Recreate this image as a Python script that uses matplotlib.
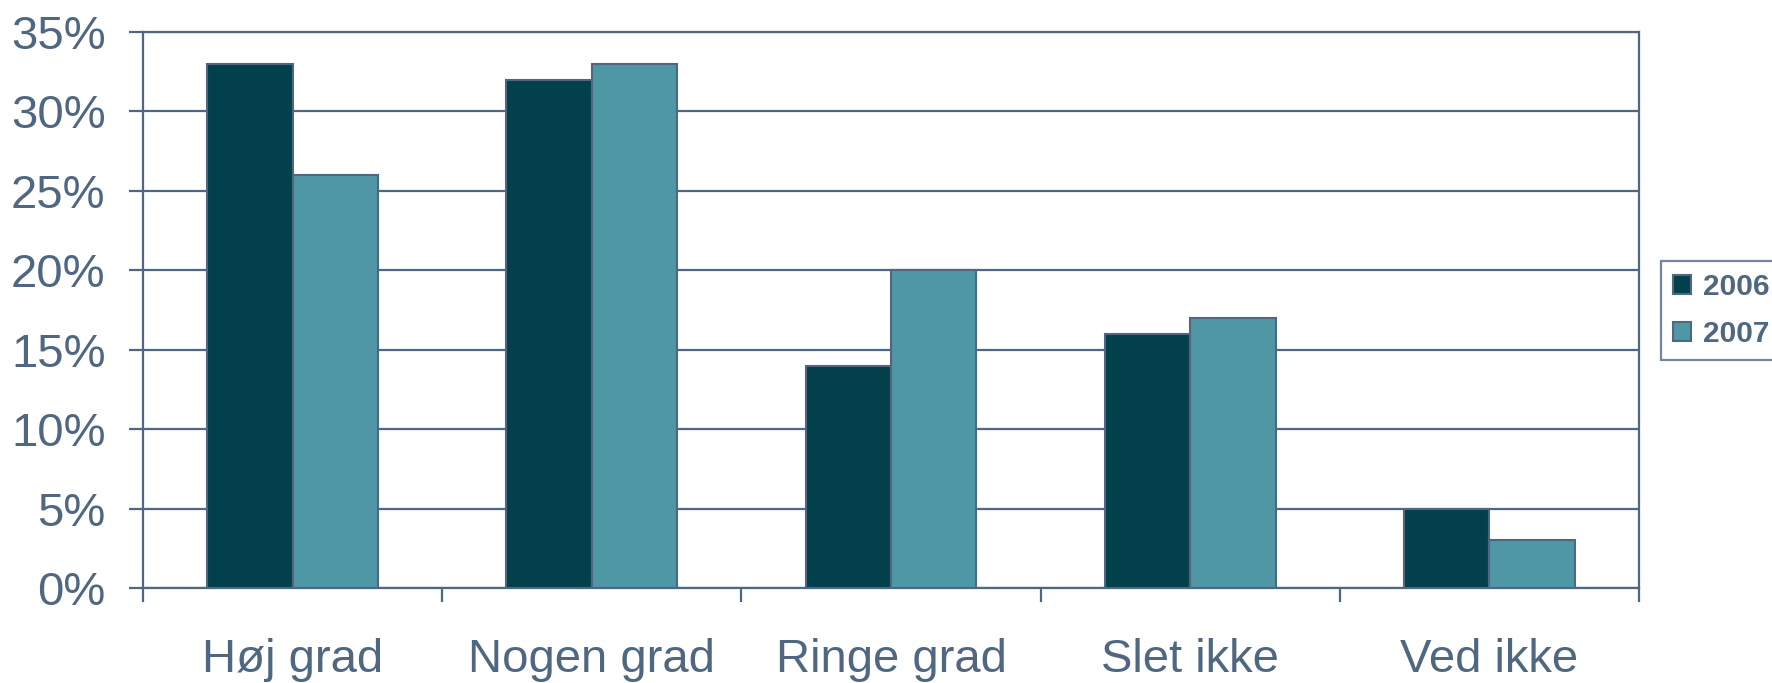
import matplotlib
matplotlib.use("Agg")
import matplotlib.pyplot as plt
import numpy as np
from matplotlib.ticker import FuncFormatter, MultipleLocator

categories = ["Høj grad", "Nogen grad", "Ringe grad", "Slet ikke", "Ved ikke"]
series_names = ["2006", "2007"]
values_2006 = [33, 32, 14, 16, 5]
values_2007 = [26, 33, 20, 17, 3]

colors = ["#02414b", "#5097a6"]
line_col = "#4f6780"
text_col = "#4f6780"

plt.rcParams["font.family"] = ["Liberation Sans", "DejaVu Sans"]

fig = plt.figure(figsize=(17.72, 6.83), dpi=100)
ax = fig.add_axes([143 / 1772, 1 - 588 / 683, (1639 - 143) / 1772, (588 - 32) / 683])

x = np.arange(len(categories))
w = 1 / 3.5
for i, (vals, name) in enumerate(zip([values_2006, values_2007], series_names)):
    ax.bar(x + (i - 0.5) * w, vals, width=w, color=colors[i], edgecolor=line_col,
           linewidth=1.5, label=name, zorder=3)

ax.set_xlim(-0.5, len(categories) - 0.5)
ax.set_ylim(0, 35)
ax.yaxis.set_major_locator(MultipleLocator(5))
ax.yaxis.set_major_formatter(FuncFormatter(lambda v, p: f"{int(round(v))}%"))
ax.grid(axis="y", color=line_col, linewidth=1.6, zorder=0)
ax.set_axisbelow(True)

for s in ax.spines.values():
    s.set_color(line_col)
    s.set_linewidth(1.6)

# category labels centred under groups, tick marks at group boundaries
ax.set_xticks(np.arange(len(categories) + 1) - 0.5)
ax.set_xticklabels([])
ax.set_xticks(x, minor=True)
ax.set_xticklabels(categories, minor=True)
ax.tick_params(axis="x", which="major", length=10, width=1.6, color=line_col, direction="out")
ax.tick_params(axis="x", which="minor", length=0, pad=36, labelsize=34, labelcolor=text_col)
ax.tick_params(axis="y", length=10, width=1.6, color=line_col, direction="out",
               pad=17, labelsize=34, labelcolor=text_col)

leg = fig.legend(loc="upper left", bbox_to_anchor=(1661 / 1772, 1 - 261 / 683),
                 frameon=True, fancybox=False, handlelength=0.62,
                 handleheight=0.62, handletextpad=0.4, borderpad=0.4, labelspacing=0.64,
                 borderaxespad=0, prop={"weight": "bold", "size": 21.5})
leg.get_frame().set_edgecolor(line_col)
leg.get_frame().set_linewidth(1.6)
for t in leg.get_texts():
    t.set_color(text_col)

fig.savefig("out.png", dpi=100)
